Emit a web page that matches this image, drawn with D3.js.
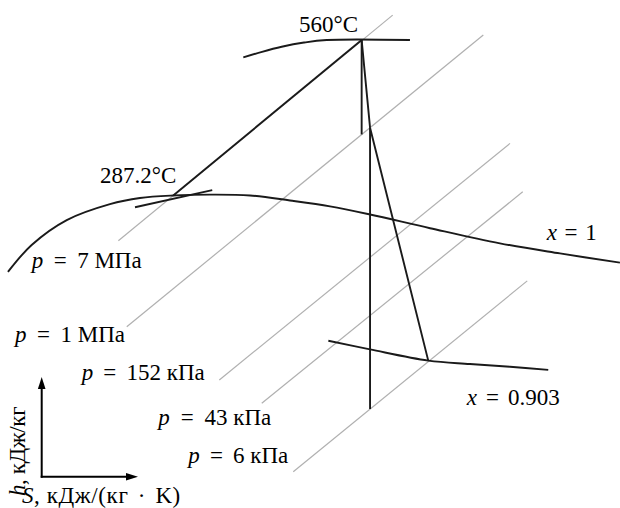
<!DOCTYPE html>
<html>
<head>
<meta charset="utf-8">
<script src="https://cdn.jsdelivr.net/npm/d3@7"></script>
<style>
  html, body { margin: 0; padding: 0; background: #fff; }
  svg { display: block; }
</style>
</head>
<body>
<script>
// h–s (Mollier) diagram of a steam cycle: heating at 7 MPa, two-stage expansion to 6 kPa.
// Entropy s in kJ/(kg·K), enthalpy h in kJ/kg (schematic values).

// Isobars: label, end points (s, h)
const isobarNames = ["7 МПа", "1 МПа", "152 кПа", "43 кПа", "6 кПа"];
const isobarS = [[5.309, 7.138], [5.365, 7.742], [5.982, 7.920], [6.265, 8.005], [6.475, 8.035]];
const isobarH = [[2820, 3626], [2513, 3555], [2323, 3168], [2240, 2995], [1995, 2677]];

// Saturated-vapour line x = 1
const satS = [4.573, 4.731, 4.965, 5.253, 5.453, 5.675, 5.920, 6.187, 6.453, 6.720, 6.987, 7.387, 7.853, 8.253, 8.653];
const satH = [2709, 2805, 2894, 2951, 2973, 2982, 2985, 2982, 2964, 2943, 2914, 2865, 2811, 2775, 2742];

// Constant dryness line x = 0.903
const qualS = [6.709, 6.987, 7.375, 7.653, 7.920, 8.175];
const qualH = [2463, 2432, 2392, 2380, 2370, 2359];

// Isotherm 560 °C
const isoTS = [6.142, 6.267, 6.398, 6.547, 6.698, 7.253];
const isoTH = [3475, 3495, 3513, 3528, 3537, 3537];

// Isotherm 287.2 °C (short piece through the saturation point)
const satTS = [5.420, 5.935];
const satTH = [2940, 3001];

// Cycle states: g – dry saturated at 7 MPa, 1 – 560 °C, 2s/2 – 1 MPa, 4s/4 – 6 kPa
const heatS = [5.675, 6.931];             // g → 1 along 7 MPa
const heatH = [2982, 3537];
const expS = [6.931, 6.987, 7.375];       // real expansion 1 → 2 → 4
const expH = [3537, 3224, 2392];
const hpIdealS = [6.931, 6.931];          // isentropic 1 → 2s
const hpIdealH = [3537, 3200];
const lpIdealS = [6.987, 6.987];          // isentropic 2 → 4s
const lpIdealH = [3224, 2219];

const W = 620, H = 508;
const FONT = "Liberation Serif";
const sx = d3.scaleLinear().domain([4.52, 8.52]).range([0, 600]);
const hy = d3.scaleLinear().domain([1880, 3680]).range([504, 0]);

const svg = d3.select("body").append("svg").attr("width", W).attr("height", H);

const zip = (a, b) => a.map((v, i) => [v, b[i]]);
const line = d3.line().x(d => sx(d[0])).y(d => hy(d[1]));
const smooth = d3.line().x(d => sx(d[0])).y(d => hy(d[1])).curve(d3.curveCatmullRom.alpha(0.5));

// isobars
svg.append("g").selectAll("path")
  .data(isobarS.map((s, i) => zip(s, isobarH[i])))
  .join("path")
  .attr("d", line)
  .attr("fill", "none")
  .attr("stroke", "#b0b0b0")
  .attr("stroke-width", 1.2);

const dark = g => g.attr("fill", "none").attr("stroke", "#1a1a1a").attr("stroke-width", 1.9)
  .attr("stroke-linejoin", "round");

svg.append("path").datum(zip(satS, satH)).attr("d", smooth).call(dark);
svg.append("path").datum(zip(qualS, qualH)).attr("d", smooth).call(dark);
svg.append("path").datum(zip(isoTS, isoTH)).attr("d", smooth).call(dark);
svg.append("path").datum(zip(satTS, satTH)).attr("d", line).call(dark);
svg.append("path").datum(zip(heatS, heatH)).attr("d", line).call(dark);
svg.append("path").datum(zip(hpIdealS, hpIdealH)).attr("d", line).call(dark);
svg.append("path").datum(zip(lpIdealS, lpIdealH)).attr("d", line).call(dark);
svg.append("path").datum(zip(expS, expH)).attr("d", line).call(dark);

// text label: left x, baseline y, target width, italic symbol, remainder;
// the surplus width is shared between the two gaps around "="
function label(x, y, w, it, rest) {
  const t = svg.append("text").attr("x", x).attr("y", y)
    .attr("font-family", FONT).attr("font-size", 23).attr("fill", "#000");
  if (it) t.append("tspan").attr("font-style", "italic").text(it);
  const r = t.append("tspan").text(rest);
  const extra = w - t.node().getComputedTextLength();
  if (it && extra > 0 && rest.includes("=")) {
    const parts = rest.split("=");
    r.text(parts[0] + "=").attr("dx", extra / 2);
    t.append("tspan").attr("dx", extra / 2).text(parts[1]);
  }
  return t;
}

label(299, 32, 60, "", "560°C");
label(100, 183, 80, "", "287.2°C");

const isobarLabelPos = [[31.7, 268, 110], [15, 341.5, 110], [81.7, 380, 123], [158.3, 425, 113], [188.3, 463, 100]];
isobarNames.forEach((n, i) => {
  const [x, y, w] = isobarLabelPos[i];
  label(x, y, w, "p", " = " + n);
});

label(546.7, 240, 50, "x", " = 1");
label(466.7, 405, 93, "x", " = 0.903");

// axes arrows
const ox = 41.7, oy = 476.7;
const ax = svg.append("g").attr("stroke", "#000").attr("stroke-width", 2);
ax.append("line").attr("x1", ox).attr("y1", oy + 1).attr("x2", ox).attr("y2", 386);
ax.append("line").attr("x1", ox - 1).attr("y1", oy).attr("x2", 129).attr("y2", oy);
svg.append("path").attr("d", `M${ox},377 L${ox - 3.8},389 L${ox + 3.8},389 Z`).attr("fill", "#000");
svg.append("path").attr("d", `M138,${oy} L126,${oy - 3.8} L126,${oy + 3.8} Z`).attr("fill", "#000");

// axis titles
const sl = svg.append("text").attr("x", 22).attr("y", 503)
  .attr("font-family", FONT).attr("font-size", 23).attr("fill", "#000")
  .attr("letter-spacing", 0.6);
sl.append("tspan").attr("font-style", "italic").text("S");
sl.append("tspan").text(", кДж/(кг");
sl.append("tspan").attr("dx", 3).text(" · ");
sl.append("tspan").attr("dx", 3).text("K)");

const hl = svg.append("text").attr("transform", "translate(25,496) rotate(-90)")
  .attr("font-family", FONT).attr("font-size", 23).attr("fill", "#000")
  .attr("letter-spacing", -0.4);
hl.append("tspan").attr("font-style", "italic").text("h");
hl.append("tspan").text(", кДж/кг");
</script>
</body>
</html>
